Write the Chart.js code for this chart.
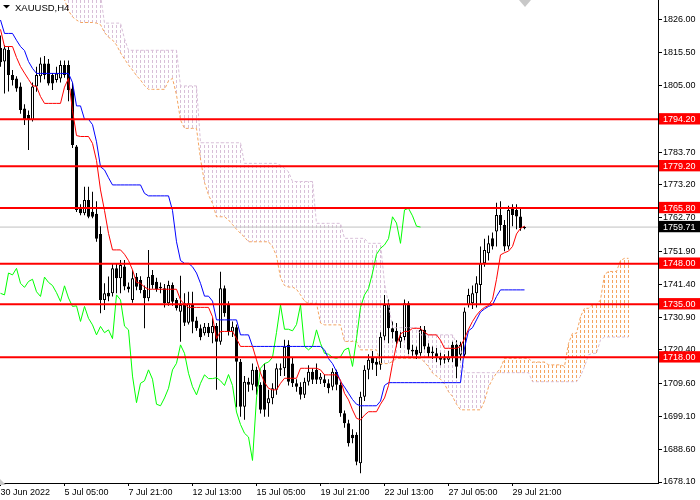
<!DOCTYPE html>
<html>
<head>
<meta charset="utf-8">
<script src="https://cdn.jsdelivr.net/npm/chart.js@4.4.1/dist/chart.umd.min.js"></script>
<style>
html,body{margin:0;padding:0;background:#ffffff;overflow:hidden;}
canvas{display:block;}
</style>
</head>
<body>
<canvas id="chart" width="700" height="500"></canvas>
<script>
const symbolTitle = 'XAUUSD,H4';
const timeLabels = ['30 Jun 2022','5 Jul 05:00','7 Jul 21:00','12 Jul 13:00','15 Jul 05:00','19 Jul 21:00','22 Jul 13:00','27 Jul 05:00','29 Jul 21:00'];
const labelSlots = [0,16,32,48,64,80,96,112,128];
const priceTicks = [1826.00,1815.50,1805.00,1783.70,1773.20,1762.70,1751.90,1741.40,1730.90,1720.40,1709.60,1699.10,1688.60,1678.10];
const levels = [1794.20,1779.20,1765.80,1748.00,1735.00,1718.00];
const lastPrice = 1759.71;

const open = [
1817,1812.7,1816.4,1808.4,1807.3,1804.7,1797.7,1795.6,1794,1804.7,
1808,1812.1,1812.1,1808.4,1806.8,1807.3,1811.6,1811.6,1804.1,1785.5,
1765.7,1764.1,1768.4,1764.6,1764,1757.5,1736.4,1738.7,1738.5,1746.5,
1743.3,1747.1,1740.7,1736.4,1743.8,1742.8,1739.6,1736.9,1744.4,1742.2,
1740.6,1740.1,1735.3,1741.2,1736.4,1732.6,1735.3,1729.1,1735.1,1729.8,
1727.3,1725.7,1727.8,1725.7,1728,1723,1740.1,1734.8,1726.2,1727.6,
1716.6,1702.2,1710.2,1709.2,1714,1709.2,1714,1703.3,1704.9,1707.6,
1714.5,1714.5,1722,1716,1709.7,1708.6,1706,1710.2,1713.4,1714,
1710.8,1711,1709.7,1708.6,1713.4,1709.2,1700.1,1696.9,1693.2,1693.2,
1684.1,1705.4,1714,1718.2,1716.6,1715.6,1724.7,1734.8,1727.3,1726.5,
1723,1724.5,1735.3,1720.4,1720.4,1719.3,1726.8,1721.5,1719.3,1719.3,
1718.2,1717.7,1717.2,1722,1722,1718.8,1718.8,1734.8,1735.3,1738.5,
1741.2,1748.1,1751.3,1756.1,1758.3,1763.6,1760.4,1753.5,1765.7,1765.2,
1763.1,1759.3];
const high = [
1821,1818,1817.5,1810,1808,1806,1799,1797,1806,1811,
1814,1814.5,1813.5,1809,1811,1813,1813,1813,1806,1786,
1767,1772.6,1772.6,1771,1768,1760,1741.7,1743.9,1748.1,1748,
1749.2,1749.2,1742,1746,1745,1744,1741,1752.4,1746,1743.5,
1742,1741.5,1742.5,1742,1737,1744.1,1738.5,1739,1739,1731,
1728.5,1729,1729,1730.5,1729,1745.4,1741,1736,1729.5,1728.5,
1717.5,1712,1711.5,1716,1715,1710,1716,1707.6,1709.7,1716,
1716,1723.6,1723.5,1718,1711,1710,1711.5,1715.5,1714.5,1716,
1713,1712.5,1711,1714.5,1714,1710,1701,1698,1695,1694,
1707,1715.5,1719,1720,1718,1726,1738,1736.5,1729.5,1729,
1726,1736.5,1736,1722,1721.5,1728,1728,1722.5,1721.5,1721,
1719.5,1719,1720,1723,1723.5,1723,1734,1740,1741,1744,
1753.5,1756,1757,1758,1767.5,1768,1762,1766.5,1767,1767,
1766,1760];
const low = [
1811,1802.5,1803.1,1805,1803,1796,1792.4,1784.4,1793.5,1803,
1806,1807,1805,1803.6,1806,1806,1807.5,1800,1785,1764.5,
1763.5,1763.5,1762.5,1762.5,1755,1732.1,1733.2,1736,1737.5,1738.5,
1738.5,1739.5,1738.8,1735.5,1739.5,1738.5,1727.3,1736,1740,1739,
1738.5,1734,1734.5,1734.5,1733,1723,1728,1728.5,1725.7,1726.5,
1723.5,1725,1724.5,1722.5,1707.6,1722,1731,1725,1724.5,1702,
1699,1698,1707,1707.5,1706,1700,1699,1699,1703,1706,
1712,1712,1709,1708.5,1707,1704.5,1705,1709,1709.5,1709.5,
1709.5,1708.5,1706.5,1707.5,1707.5,1699,1695.5,1689.5,1690.5,1683.5,
1680.9,1704,1711,1714,1712,1714,1723.5,1722.5,1724,1721.5,
1721,1723.5,1719,1718.5,1717.5,1718.5,1720.5,1718,1717.5,1716.5,
1715.5,1716,1716.5,1716.5,1711.3,1717,1718,1734,1733.5,1734,
1735,1747,1749,1752.5,1753.5,1758.5,1752,1752.5,1760,1759,
1758.5,1759];
const close = [
1812.5,1816.9,1808.4,1806.8,1804.1,1797.2,1794,1794,1804.7,1808.4,
1812.1,1808.4,1805.7,1805.7,1808.9,1811.6,1808.4,1803.6,1786,1765.2,
1764.1,1768.4,1763,1763,1756,1736.4,1738.5,1737.5,1746.5,1743.3,
1747.6,1740.7,1739.8,1743.3,1740.6,1739.6,1736.9,1743.8,1741.2,1739.8,
1740.1,1735.3,1741.2,1735.8,1733.7,1734.8,1729.1,1735.3,1729.4,1727.3,
1724.4,1727.8,1725.7,1728,1723,1740.1,1732.1,1726.2,1727.8,1716.6,
1702.2,1710.2,1709.2,1714,1708.6,1701.2,1701.2,1704.9,1708.1,1714.5,
1714,1721.4,1710.2,1709.7,1708.6,1706,1710.2,1713.4,1710.8,1710.8,
1711.8,1709.7,1708.1,1713.4,1709.2,1700.1,1696.9,1690.5,1692.1,1684.6,
1705.4,1714,1717.2,1716.1,1715.6,1724.6,1734.8,1727.3,1726,1723,
1724.5,1735.3,1720.4,1719.9,1718.8,1726.8,1721.5,1719.3,1719.9,1718.2,
1717.2,1717.2,1718.2,1718.2,1715,1722,1732.7,1738,1738.5,1741.7,
1748.1,1752.4,1754.5,1753.5,1763.6,1760.4,1753.5,1765.2,1763.6,1763.1,
1759.3,1759.71];

const tenkan = [
1823,1817.5,1817.5,1817.5,1814,1811.1,1809,1807,1805,1804.7,
1801.5,1799.3,1799.3,1799.3,1799.3,1799.3,1804.5,1807.3,1797,1789,
1788.7,1788.7,1788.7,1786.5,1781,1771.6,1765,1757.7,1752.4,1752.4,
1752.4,1751,1749,1746,1742,1741.7,1740.5,1739.8,1739.8,1739.8,
1739.8,1739.8,1739.8,1739.8,1739.8,1736.4,1735,1734,1734,1734,
1734,1734,1734,1731,1724,1726.3,1726.3,1726.3,1726.3,1724,
1721.5,1721.5,1721.5,1721.5,1717.2,1713,1710,1708.1,1707.6,1707.6,
1709.7,1711.3,1711.3,1711.3,1711.3,1714.5,1714.5,1714.5,1714.5,1714.5,
1714,1712.4,1712.4,1712.4,1712.4,1710.7,1706.5,1704.4,1701.2,1698.5,
1698,1699.5,1700.6,1700.6,1700.6,1703,1705,1709,1716,1722,
1725.5,1726.3,1726.3,1727.3,1727.3,1727.3,1726,1725.2,1725.2,1725.2,
1723.5,1720.9,1720.9,1720.9,1720.9,1721.5,1724,1727,1729.5,1731.5,
1733,1734,1734.6,1736.5,1743,1750.8,1751.5,1752,1753.5,1757.5,
1759.3,1760];
const kijun = [
1826,1821.7,1821.7,1821.7,1819.5,1817.5,1816.2,1812.7,1810.5,1808.9,
1808.9,1808.9,1808.9,1808.9,1808.9,1808.9,1808.9,1808.9,1806,1798.5,
1798.5,1794.2,1794.2,1792.5,1787,1779,1778,1775.5,1773.2,1773.2,
1773.2,1773.2,1773.2,1773.2,1773.2,1773.2,1770.5,1769.7,1769.7,1769.7,
1769.7,1769.7,1769.7,1765,1755,1749,1748.1,1748.1,1747,1745,
1741.7,1737.6,1737.6,1736,1730,1730,1730,1730,1730,1730,
1725.2,1725.2,1725.2,1721.5,1721.5,1721.5,1721.5,1721.5,1721.5,1721.5,
1721.5,1721.5,1721.5,1721.5,1721.5,1721.5,1721.5,1721.5,1721.5,1721.5,
1721.5,1720.4,1717.6,1716,1713.5,1710.3,1708.5,1706.5,1704.5,1703,
1702.5,1702.5,1702.5,1702.5,1702.5,1704,1709,1709.9,1709.9,1709.9,
1709.9,1709.9,1709.9,1709.9,1709.9,1709.9,1709.9,1709.9,1709.9,1709.9,
1709.9,1709.9,1709.9,1709.9,1709.9,1709.9,1721,1726.5,1727.5,1730,
1732.5,1733.5,1734.3,1734.8,1737.5,1739.6,1739.6,1739.6,1739.6,1739.6,
1739.6,1739.6];
const chikou = [
1738.5,1738,1745,1744.4,1746.5,1741.7,1740.4,1742.3,1743,1739,
1737.5,1743.7,1742,1741,1738.7,1735.9,1740.9,1737,1734.3,1734.5,
1729.5,1734.3,1730.5,1728.4,1725.2,1727.9,1725.9,1726.8,1724,1738,
1736.4,1728,1726.8,1712,1703.5,1709.7,1710.5,1714,1711,1703,
1702.5,1705,1708.1,1714,1716.1,1722,1719.3,1712.9,1708.6,1706,
1709.7,1712.4,1711.2,1711.2,1711.5,1710.5,1709,1712.5,1709,1700.5,
1696.5,1693.7,1692.5,1685,1705,1714.5,1716,1716.5,1718,1726,
1734.8,1727,1727,1726.5,1728.5,1734.8,1721.5,1720.4,1721.5,1726.8,
1722.5,1719.3,1719,1718,1717.7,1718.2,1720.4,1721,1715.1,1724,
1734,1738,1740,1745,1751,1752.9,1754,1756,1763,1761,
1754.5,1765.2,1765.7,1763.3,1760,1759.71];
const spanA = [
1836,1836,1836,1836,1836,1836,1836,1836,1836,1836,1836,1836,1836,1836,1836,1836,
1832.5,1829,1827,1826,1825.2,1825.2,1825.2,1825.2,1825,1824.5,
1822,1820.5,1819.6,1818,1815.5,1813.5,1811.6,1810,1808.2,1806.8,
1805,1803.8,1803.8,1803.8,1803.8,1803.8,1806.5,1807.3,1802,1794,
1791.3,1791.3,1791.3,1791.3,1781.5,1774,1770,1767.3,1763,1763,
1763,1762,1760.5,1759,1757.7,1756.5,1755,1755,1755,1755,
1755,1755,1753.4,1750.5,1743.5,1741,1740.5,1740.5,1739.8,1738,
1736,1735.3,1735.3,1735.3,1729,1728.4,1728.4,1728.4,1728.4,1728.4,
1723.1,1723.1,1723.1,1723.1,1720.4,1720.4,1720.4,1720.4,1720.4,1716,
1716,1716,1716.7,1717.7,1717.7,1717.7,1717.7,1717.7,1717.7,1717.7,
1716.5,1715,1713,1712,1711,1709.5,1707,1705.5,1703,1701.2,
1701.2,1701.2,1701.2,1701.2,1701.2,1704,1708.5,1711,1713,1714.5,
1717.7,1717.7,1717.7,1717.7,1717.7,1717.7,1717.7,1716.5,1716.5,1716.5,
1716.5,1715.6,1715.6,1715.6,1715.6,1715.1,1722.5,1725.7,1725.7,1731,
1733.7,1733.7,1734.8,1734.8,1736.4,1744.5,1745.5,1745.5,1745.5,1749,
1749.7,1749.7];
const spanB = [
1834,1834,1834,1834,1834,1834,1834,1834,1834,1834,1834,1834,1834,1834,1834,1834,
1834,1834,1834,1834,1834,1834,1834,1834,1834,1834,
1825,1825,1825,1825,1825,1820,1816.3,1816.3,1816.3,1816.3,
1816.3,1816.3,1816.3,1816.3,1816.3,1816.3,1816.3,1816.3,1816.3,1804.9,
1804.9,1804.9,1804.9,1804.9,1786.7,1786.7,1786.7,1786.7,1786.7,1786.7,
1786.7,1786.7,1786.7,1786.7,1786.7,1780.1,1780.1,1780.1,1780.1,1780.1,
1780.1,1780.1,1780.1,1780.1,1779.5,1778.5,1777.4,1774.3,1774.3,1774.3,
1774.3,1774.3,1774.3,1760.9,1760.9,1760.9,1760.9,1760.9,1760.9,1760.9,
1756.1,1756.1,1756.1,1756.1,1756.1,1756.1,1754.5,1754.5,1754.5,1754.5,
1741.7,1735,1727.5,1727.5,1727.5,1727.5,1727.5,1727.5,1727.5,1725.2,
1725.2,1725.2,1725.2,1725.2,1725.2,1725.2,1725.2,1725.2,1722.5,1720.9,
1713.1,1713.1,1713.1,1713.1,1713.1,1713.1,1713.1,1713.1,1713.1,1713.1,
1713.1,1713.1,1713.1,1713.1,1713.1,1713.1,1713.1,1710.2,1710.2,1710.2,
1710.2,1710.2,1710.2,1710.2,1710.2,1710.2,1710.2,1710.2,1710.2,1712,
1715,1718.8,1719.3,1719.3,1723.6,1724.5,1724.5,1724.5,1724.5,1724.5,
1724.5,1724.5];

const X_MIN = -0.125, X_MAX = 164.375;
const Y_MIN = 1677.78, Y_MAX = 1832.40;
const FONT = {family: '"Liberation Sans", Arial, sans-serif', size: 9, lineHeight: 1.15};

function dashPattern(color) {
  const c = document.createElement('canvas');
  c.width = 1; c.height = 5;
  const g = c.getContext('2d');
  g.fillStyle = color;
  g.fillRect(0, 0, 1, 3);
  return g.createPattern(c, 'repeat');
}
const pinkFill = dashPattern('#D8BFD8');
const sandFill = dashPattern('#F4A460');

const toXY = arr => arr.map((v, i) => ({x: i, y: v}));
const wickData = open.map((_, i) => ({x: i, y: [low[i], high[i]]}));
const bodyData = open.map((o, i) => {
  let lo = Math.min(o, close[i]), hi = Math.max(o, close[i]);
  if (hi - lo < 0.35) { const m = (hi + lo) / 2; lo = m - 0.18; hi = m + 0.18; }
  return {x: i, y: [lo, hi]};
});
const cloudData = spanA.map((a, i) => ({x: i, y: [Math.min(a, spanB[i]), Math.max(a, spanB[i])]}));
const marked = v => levels.includes(v) || v === lastPrice;

const datasets = [];
levels.forEach(lv => datasets.push({type: 'line', data: [{x: X_MIN, y: lv}, {x: X_MAX, y: lv}],
  borderColor: '#FF0000', borderWidth: 2, pointRadius: 0, order: 0}));
datasets.push({type: 'line', data: toXY(tenkan), borderColor: '#FF0000', borderWidth: 1, pointRadius: 0, order: 1});
datasets.push({type: 'line', data: toXY(kijun), borderColor: '#0000FF', borderWidth: 1, pointRadius: 0, order: 2});
datasets.push({type: 'line', data: toXY(chikou), borderColor: '#00FF00', borderWidth: 1, pointRadius: 0, order: 3});
datasets.push({type: 'line', data: toXY(spanA), borderColor: '#F4A460', borderWidth: 1, borderDash: [3, 2], pointRadius: 0, order: 4});
datasets.push({type: 'line', data: toXY(spanB), borderColor: '#D8BFD8', borderWidth: 1, borderDash: [3, 2], pointRadius: 0, order: 5});
datasets.push({type: 'bar', data: bodyData,
  backgroundColor: c => (c.dataIndex !== undefined && close[c.dataIndex] >= open[c.dataIndex]) ? '#FFFFFF' : '#000000',
  borderColor: '#000000', borderWidth: 1, borderSkipped: false, barThickness: 3, grouped: false, inflateAmount: 0, order: 6});
datasets.push({type: 'bar', data: wickData, backgroundColor: '#000000', borderWidth: 0, barThickness: 1, grouped: false, inflateAmount: 0, order: 7});
datasets.push({type: 'line', data: [{x: X_MIN, y: lastPrice}, {x: X_MAX, y: lastPrice}], borderColor: '#C0C0C0', borderWidth: 1, pointRadius: 0, order: 8});
datasets.push({type: 'bar', data: cloudData,
  backgroundColor: c => (c.dataIndex !== undefined && spanA[c.dataIndex] > spanB[c.dataIndex]) ? sandFill : pinkFill,
  borderWidth: 0, barThickness: 1, grouped: false, inflateAmount: 0, order: 9});

const decor = {
  id: 'decor',
  afterDraw(chart) {
    const ctx = chart.ctx;
    ctx.save();
    ctx.fillStyle = '#000000';
    ctx.beginPath();
    ctx.moveTo(3, 5); ctx.lineTo(10, 5); ctx.lineTo(6.5, 8.5); ctx.closePath(); ctx.fill();
    ctx.font = '9.5px "Liberation Sans", Arial, sans-serif';
    ctx.textBaseline = 'alphabetic';
    ctx.textAlign = 'left';
    ctx.fillText(symbolTitle, 15, 11);
    ctx.fillStyle = '#C8C8C8';
    ctx.beginPath();
    ctx.moveTo(519, 0); ctx.lineTo(531, 0); ctx.lineTo(525, 7); ctx.closePath(); ctx.fill();
    ctx.beginPath();
    ctx.moveTo(0, 479); ctx.lineTo(0, 485); ctx.lineTo(6, 485); ctx.closePath(); ctx.fill();
    ctx.restore();
  }
};

new Chart(document.getElementById('chart'), {
  type: 'line',
  data: {datasets},
  options: {
    responsive: false,
    devicePixelRatio: 1,
    animation: false,
    events: [],
    layout: {padding: 0},
    plugins: {legend: {display: false}, tooltip: {enabled: false}, title: {display: false}},
    scales: {
      x: {
        type: 'linear', min: X_MIN, max: X_MAX, offset: false, position: 'bottom',
        grid: {drawOnChartArea: false, drawTicks: true, tickLength: 3, color: '#000000', offset: false},
        border: {display: true, color: '#000000', width: 1},
        afterBuildTicks: s => { s.ticks = labelSlots.map(v => ({value: v})); },
        afterFit: s => { s.height = 17; s.paddingLeft = 0; s.paddingRight = 0; },
        ticks: {autoSkip: false, maxRotation: 0, minRotation: 0, align: 'start', padding: 1,
          font: FONT, color: '#000000',
          callback: v => { const k = labelSlots.indexOf(v); return k >= 0 ? timeLabels[k] : ''; }}
      },
      y: {
        type: 'linear', position: 'right', min: Y_MIN, max: Y_MAX, beginAtZero: false,
        grid: {drawOnChartArea: false, drawTicks: true, tickLength: 4, color: '#000000'},
        border: {display: true, color: '#000000', width: 1},
        afterBuildTicks: s => { s.ticks = [...priceTicks, ...levels, lastPrice].map(v => ({value: v})); },
        afterFit: s => { s.width = 42; s.paddingTop = 0; s.paddingBottom = 0; },
        ticks: {autoSkip: false, padding: 1, font: FONT,
          callback: v => Number(v).toFixed(2),
          color: c => marked(c.tick.value) ? '#FFFFFF' : '#000000',
          showLabelBackdrop: c => marked(c.tick.value),
          backdropColor: c => c.tick.value === lastPrice ? '#000000' : '#FF0000',
          backdropPadding: {left: 4, right: 8, top: 1, bottom: 0}}
      }
    }
  },
  plugins: [decor]
});
</script>
</body>
</html>
